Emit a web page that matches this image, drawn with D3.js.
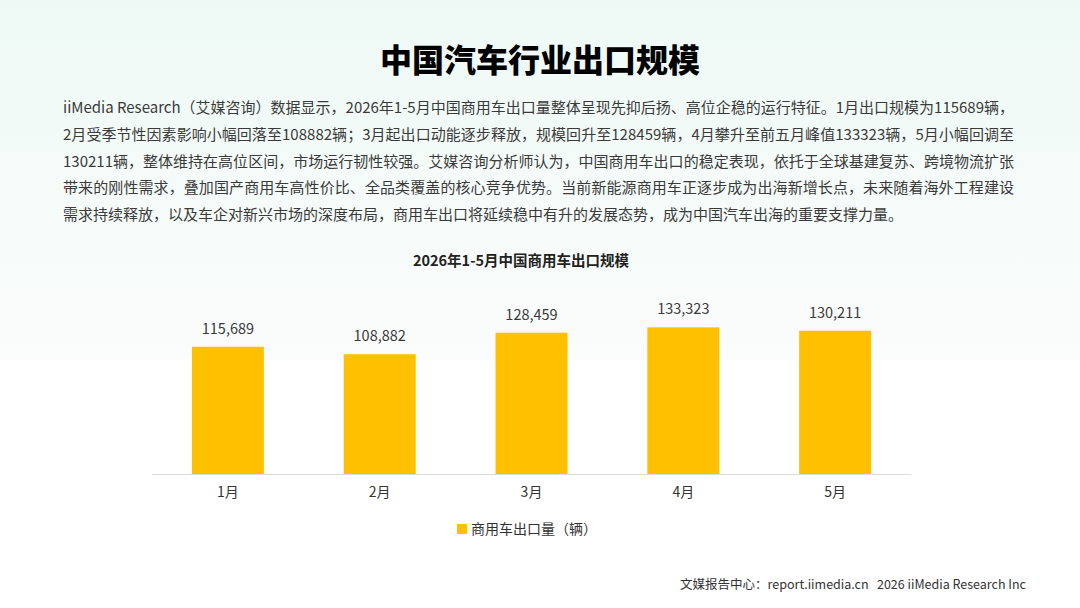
<!DOCTYPE html>
<html>
<head>
<meta charset="utf-8">
<script src="https://cdn.jsdelivr.net/npm/d3@7"></script>
<style>
  html, body { margin: 0; padding: 0; background: #fff; }
  svg { display: block; font-family: "Noto Sans CJK SC", "Noto Sans", sans-serif; }
</style>
</head>
<body>
<div class="chart"></div>
<script>
// chart data
const months = ['1月', '2月', '3月', '4月', '5月']
const exports = [115689, 108882, 128459, 133323, 130211]
const seriesName = '商用车出口量（辆）'

const title = '中国汽车行业出口规模'
const chartTitle = '2026年1-5月中国商用车出口规模'
const paragraph = [
  'iiMedia Research（艾媒咨询）数据显示，2026年1-5月中国商用车出口量整体呈现先抑后扬、高位企稳的运行特征。1月出口规模为115689辆，',
  '2月受季节性因素影响小幅回落至108882辆；3月起出口动能逐步释放，规模回升至128459辆，4月攀升至前五月峰值133323辆，5月小幅回调至',
  '130211辆，整体维持在高位区间，市场运行韧性较强。艾媒咨询分析师认为，中国商用车出口的稳定表现，依托于全球基建复苏、跨境物流扩张',
  '带来的刚性需求，叠加国产商用车高性价比、全品类覆盖的核心竞争优势。当前新能源商用车正逐步成为出海新增长点，未来随着海外工程建设',
  '需求持续释放，以及车企对新兴市场的深度布局，商用车出口将延续稳中有升的发展态势，成为中国汽车出海的重要支撑力量。'
]
const footer = '文媒报告中心：report.iimedia.cn   2026 iiMedia Research Inc'

const width = 1080
const height = 608
const barColor = '#FFC000'

const svg = d3.select('.chart')
  .append('svg')
    .attr('width', width)
    .attr('height', height)

// soft tinted background
const defs = svg.append('defs')
const grad = defs.append('linearGradient')
  .attr('id', 'bg')
  .attr('x1', 0).attr('y1', 0).attr('x2', 0).attr('y2', 1)
grad.append('stop').attr('offset', '0%').attr('stop-color', '#eef9f5')
grad.append('stop').attr('offset', '42%').attr('stop-color', '#f7fcfa')
grad.append('stop').attr('offset', '59%').attr('stop-color', '#fbfcfc')
grad.append('stop').attr('offset', '59.5%').attr('stop-color', '#ffffff')
grad.append('stop').attr('offset', '100%').attr('stop-color', '#ffffff')

svg.append('rect')
  .attr('width', width)
  .attr('height', height)
  .attr('fill', 'url(#bg)')

// title
svg.append('text')
  .attr('x', 540)
  .attr('y', 72)
  .attr('text-anchor', 'middle')
  .attr('font-size', 32)
  .attr('font-weight', 900)
  .attr('fill', '#000')
  .text(title)

// paragraph, justified lines like the source
svg.append('g')
  .selectAll('text')
  .data(paragraph)
  .join('text')
    .attr('x', 63)
    .attr('y', (d, i) => 113 + i * 26.8)
    .attr('font-size', 15)
    .attr('fill', '#3a3a3a')
    .attr('textLength', (d, i) => i < paragraph.length - 1 ? 951 : null)
    .attr('lengthAdjust', 'spacing')
    .text(d => d)

// chart title
svg.append('text')
  .attr('x', 521)
  .attr('y', 266)
  .attr('text-anchor', 'middle')
  .attr('font-size', 14.5)
  .attr('font-weight', 700)
  .attr('fill', '#222')
  .text(chartTitle)

const x = d3.scaleBand()
  .domain(months)
  .range([152, 911])
  .paddingInner(0.526)
  .paddingOuter(0.263)

const y = d3.scaleLinear()
  .domain([0, 160000])
  .range([474, 298])

const data = months.map((m, i) => ({ month: m, value: exports[i] }))

svg.append('g')
  .selectAll('rect')
  .data(data)
  .join('rect')
    .attr('x', d => x(d.month))
    .attr('y', d => y(d.value))
    .attr('width', x.bandwidth())
    .attr('height', d => y(0) - y(d.value))
    .attr('fill', barColor)

svg.append('g')
  .selectAll('text')
  .data(data)
  .join('text')
    .attr('x', d => x(d.month) + x.bandwidth() / 2)
    .attr('y', d => y(d.value) - 13)
    .attr('text-anchor', 'middle')
    .attr('font-size', 14.5)
    .attr('fill', '#3a3a3a')
    .text(d => d3.format(',')(d.value))

// x axis
const xAxis = svg.append('g')
  .attr('transform', `translate(0,${y(0)})`)
  .call(d3.axisBottom(x).tickSize(0).tickPadding(13))
xAxis.select('.domain').attr('stroke', '#dcdcdc').attr('d', 'M152,0.5H911')
xAxis.selectAll('text')
  .attr('font-size', 14)
  .attr('fill', '#333')
  .attr('font-family', '"Noto Sans CJK SC", sans-serif')

// legend
const legend = svg.append('g').attr('transform', 'translate(457,529)')
legend.append('rect')
  .attr('x', 0).attr('y', -5)
  .attr('width', 10).attr('height', 10)
  .attr('fill', barColor)
legend.append('text')
  .attr('x', 14)
  .attr('y', 5)
  .attr('font-size', 14)
  .attr('fill', '#333')
  .text(seriesName)

// footer
svg.append('text')
  .attr('x', 1026)
  .attr('y', 589)
  .attr('text-anchor', 'end')
  .attr('font-size', 12.5)
  .attr('fill', '#333')
  .style('white-space', 'pre')
  .text(footer)
</script>
</body>
</html>
